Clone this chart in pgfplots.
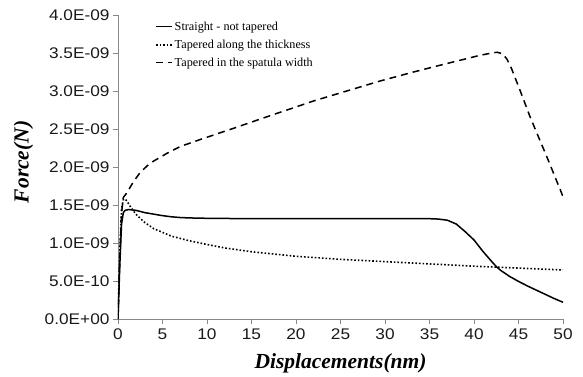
\documentclass[border=0pt]{standalone}
\usepackage{pgfplots}
\pgfplotsset{compat=1.18}
\usepackage{fontspec}
\setmainfont{Liberation Serif}
\newfontfamily\tickfont[FakeStretch=1.12]{Liberation Sans}
\definecolor{axisgray}{HTML}{888888}
\begin{document}
\begin{tikzpicture}[x=1pt,y=1pt]
\path[use as bounding box] (-118,-57) rectangle (465,319);
\begin{axis}[
  at={(0,0)}, anchor=south west,
  scale only axis, width=445pt, height=304pt,
  xmin=0, xmax=50, ymin=0, ymax=4,
  axis lines*=left,
  axis line style={draw=axisgray, line width=0.8pt},
  xtick={0,5,...,50}, ytick={0,0.5,...,4},
  yticklabels={0.0E+00,5.0E-10,1.0E-09,1.5E-09,2.0E-09,2.5E-09,3.0E-09,3.5E-09,4.0E-09},
  tick align=outside, major tick length=5pt,
  tick style={draw=axisgray, line width=0.8pt},
  /pgf/number format/assume math mode=true,
  ticklabel style={font=\tickfont\fontsize{15.4}{16}\selectfont, text=black!90},
  xticklabel style={yshift=-1pt},
  xlabel={Displacements(nm)}, ylabel={Force(N)},
  label style={font=\bfseries\itshape\fontsize{21.5}{24}\selectfont},
  xlabel style={at={(axis description cs:0.5,-0.145)}, anchor=center},
  ylabel style={at={(axis description cs:-0.2124,0.517)}, anchor=center},
  legend style={draw=none, fill=none, at={(rel axis cs:0.083,0.985)}, anchor=north west,
    font=\fontsize{12.2}{14}\selectfont, row sep=4pt, inner sep=0pt,
    /tikz/every even column/.append style={column sep=1pt}},
  legend cell align=left,
  legend image code/.code={\draw[#1] (0pt,0pt) -- (16pt,0pt);},
]
\addplot[black, line width=1.5pt] coordinates {
(0,0) (0.2,0.7) (0.4,1.25) (0.6,1.40) (0.8,1.43) (1.2,1.44) (2,1.43) (3,1.40) (4,1.38)
(5,1.36) (6,1.345) (7,1.335) (8,1.33) (10,1.325) (15,1.32) (20,1.32) (25,1.322) (30,1.322)
(35,1.32) (36,1.315) (37,1.30) (38,1.25) (39,1.15) (40,1.04) (41,0.89) (42,0.755) (42.5,0.69)
(43,0.64) (44,0.56) (45,0.495) (46,0.435) (47,0.38) (48,0.325) (49,0.27) (50,0.22)
};
\addlegendentry{Straight - not tapered}
\addplot[black, line width=1.6pt, dash pattern=on 1.6pt off 2pt] coordinates {
(0,0) (0.2,0.9) (0.4,1.45) (0.6,1.57) (0.8,1.58) (1.0,1.55) (1.5,1.46) (2,1.38) (3,1.27)
(4,1.19) (5,1.14) (6,1.09) (8,1.03) (10,0.98) (12,0.935) (15,0.885) (20,0.825) (25,0.785)
(30,0.755) (35,0.725) (40,0.695) (45,0.67) (50,0.645)
};
\addlegendentry{Tapered along the thickness}
\addplot[black, line width=1.5pt, dash pattern=on 7pt off 5pt] coordinates {
(0,0) (0.2,0.8) (0.4,1.4) (0.6,1.6) (1,1.66) (1.7,1.8) (2.5,1.93) (3.6,2.05) (5.5,2.18)
(7,2.27) (9.2,2.36) (13,2.51) (16.7,2.66) (20,2.79) (22,2.87) (25.7,3.0) (29.4,3.13)
(33.2,3.25) (36.9,3.36) (40.7,3.47) (42,3.50) (42.6,3.51) (43.2,3.49) (43.7,3.42)
(44.2,3.3) (45.2,3.0) (46.3,2.66) (47.3,2.38) (48.2,2.13) (49,1.9) (50,1.61)
};
\addlegendentry{Tapered in the spatula width}
\end{axis}
\end{tikzpicture}
\end{document}
